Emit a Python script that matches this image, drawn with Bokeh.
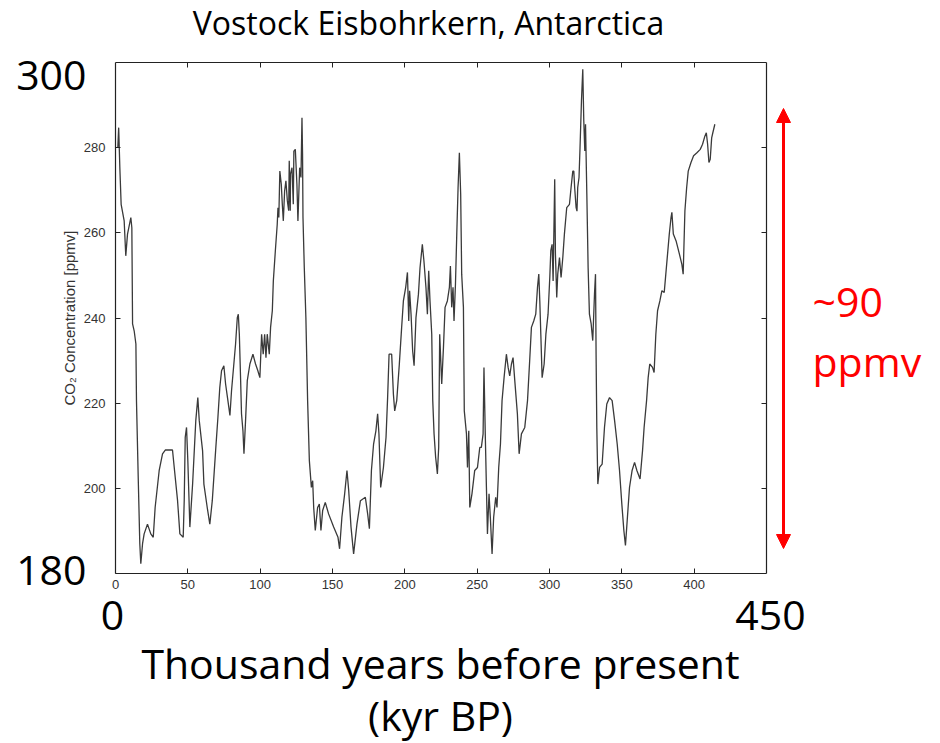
from bokeh.plotting import figure
from bokeh.models import (Range1d, LinearAxis, FixedTicker, Label, Arrow, NormalHead,
                          CustomLabelingPolicy)
from bokeh.embed import file_html
from bokeh.resources import INLINE

# ---- data read from the Vostok CO2 record (kyr BP, ppmv) ----
age_kyr = [
    1.6, 2.2, 3.0, 3.9, 6.0, 7.1, 8.3, 10.6, 11.3, 11.8, 12.9, 14.1, 14.5, 15.7,
    16.8, 17.5, 18.7, 19.8, 22.1, 24.4, 26.1, 27.4, 30.2, 32.5, 34.4, 39.4, 40.6,
    42.9, 44.5, 46.8, 47.5, 48.2, 49.1, 50.0, 51.4, 53.3, 55.5, 56.9, 57.9, 60.2,
    61.1, 63.4, 65.2, 66.9, 69.2, 70.8, 72.1, 73.3, 74.9, 76.1, 77.7, 79.1, 80.2,
    81.4, 83.0, 84.2, 84.9, 85.6, 86.5, 87.1, 88.1, 88.8, 89.9, 91.1, 92.9, 95.0,
    96.8, 98.4, 99.8, 101.0, 102.1, 103.1, 104.0, 104.9, 106.3, 107.2, 108.4,
    109.1, 110.5, 111.8, 112.3, 112.9, 113.6, 114.6, 115.3, 116.0, 116.9, 117.8,
    118.8, 119.7, 120.1, 120.8, 121.0, 122.0, 122.9, 123.3, 124.3, 125.4, 126.1,
    127.3, 128.2, 128.9, 129.3, 129.6, 130.5, 131.6, 132.8, 134.0, 135.4, 136.3,
    137.0, 138.1, 139.7, 140.9, 142.0, 143.2, 145.0, 147.3, 150.8, 153.8, 154.9,
    156.5, 158.4, 160.0, 161.2, 162.8, 164.6, 166.9, 169.3, 172.7, 174.3, 175.5,
    176.9, 178.4, 180.0, 181.2, 182.1, 183.3, 185.2, 187.0, 188.1, 189.1, 190.9,
    192.1, 193.0, 194.4, 196.2, 197.8, 199.0, 200.6, 201.8, 202.7, 203.3, 204.3,
    205.4, 206.4, 207.7, 209.4, 210.5, 212.1, 213.2, 214.6, 215.6, 216.5, 217.4,
    218.6, 219.3, 220.2, 221.3, 222.5, 223.4, 224.1, 225.5, 226.7, 227.8, 229.4,
    230.8, 231.5, 232.4, 233.3, 234.0, 235.0, 235.9, 236.8, 237.7, 238.6, 239.3,
    240.5, 241.1, 242.6, 243.3, 244.2, 244.9, 246.4, 248.3, 250.2, 251.8, 252.9,
    254.1, 254.7, 255.7, 256.4, 257.1, 258.2, 259.1, 260.3, 261.4, 262.8, 263.7,
    264.9, 266.1, 267.2, 268.6, 270.2, 271.4, 272.5, 273.7, 274.8, 276.0, 277.8,
    279.0, 280.6, 282.9, 284.8, 286.3, 287.5, 289.1, 290.5, 291.7, 292.6, 293.3,
    294.0, 294.9, 296.3, 297.5, 299.0, 300.2, 300.9, 301.8, 302.5, 303.6, 304.1,
    305.0, 305.7, 306.9, 308.0, 309.2, 310.3, 311.9, 313.8, 314.9, 316.1, 316.8,
    317.4, 318.4, 319.0, 319.5, 320.4, 321.1, 322.1, 323.0, 323.7, 324.4, 324.9,
    325.8, 326.7, 327.6, 328.8, 329.9, 331.1, 331.8, 332.2, 332.7, 333.4, 334.6,
    336.4, 338.0, 339.6, 341.5, 343.3, 345.0, 346.8, 348.4, 350.0, 351.4, 352.5,
    353.7, 355.3, 357.1, 358.8, 360.4, 362.6, 364.3, 365.4, 367.1, 368.2, 369.3,
    371.2, 372.3, 373.5, 374.7, 376.3, 377.7, 379.3, 380.4, 381.6, 382.8, 384.0,
    384.6, 385.6, 387.5, 389.8, 391.5, 392.4, 392.9, 393.6, 394.8, 395.9, 397.8,
    399.6, 401.9, 404.2, 405.8, 407.4, 408.4, 409.3, 410.2, 411.1, 412.1, 412.9,
    414.3,
]
co2_ppmv = [
    280.0, 284.7, 275.3, 266.7, 262.8, 254.6, 259.7, 263.6, 261.2, 238.6, 237.0,
    233.9, 220.6, 202.6, 187.0, 182.3, 187.0, 189.3, 191.6, 189.3, 188.5, 195.5,
    204.2, 208.1, 209.0, 209.0, 204.9, 197.1, 189.3, 188.5, 197.1, 212.0, 214.3,
    206.5, 190.9, 201.0, 215.9, 221.3, 215.9, 208.8, 201.0, 195.5, 191.6, 197.1,
    208.8, 216.7, 223.7, 227.6, 228.8, 224.5, 220.6, 217.1, 222.9, 227.6, 233.9,
    240.1, 240.9, 236.2, 225.3, 217.5, 213.5, 208.1, 215.9, 225.3, 229.2, 231.5,
    229.2, 227.6, 226.0, 236.2, 231.5, 236.2, 230.7, 236.2, 231.5, 237.8, 241.7,
    248.7, 255.8, 262.0, 265.9, 263.6, 274.5, 271.4, 266.7, 262.8, 269.8, 272.2,
    267.5, 265.2, 276.9, 265.2, 273.8, 275.3, 266.7, 279.2, 279.6, 271.4, 262.8,
    275.3, 273.0, 287.0, 278.4, 263.6, 251.8, 240.1, 220.6, 206.5, 200.2, 201.8,
    195.5, 190.1, 195.5, 196.3, 190.1, 194.8, 196.7, 194.0, 190.9, 188.5, 185.8,
    193.2, 198.7, 204.2, 199.5, 190.9, 184.6, 191.6, 197.1, 197.9, 194.0, 190.5,
    204.2, 210.4, 213.5, 217.5, 212.8, 200.2, 204.9, 212.0, 221.3, 231.5, 231.5,
    222.1, 218.2, 220.6, 229.2, 237.8, 244.0, 247.2, 250.7, 239.3, 246.4, 240.9,
    232.3, 228.8, 240.1, 245.6, 251.8, 257.3, 253.4, 247.2, 240.9, 251.1, 244.0,
    236.2, 220.6, 212.8, 207.3, 203.4, 209.6, 236.2, 224.5, 233.1, 242.5, 244.0,
    247.2, 252.2, 242.5, 247.2, 239.3, 248.0, 259.7, 270.6, 278.8, 269.1, 250.3,
    242.5, 218.2, 212.8, 204.9, 213.5, 195.5, 198.7, 204.2, 204.9, 209.6, 209.6,
    212.8, 228.4, 211.2, 200.2, 189.3, 198.7, 193.2, 184.6, 193.2, 197.9, 195.5,
    204.9, 210.4, 220.6, 226.0, 231.5, 228.4, 226.4, 229.2, 230.7, 225.3, 217.5,
    208.1, 212.8, 214.3, 220.6, 230.0, 237.8, 239.3, 240.9, 247.2, 250.3, 244.0,
    236.2, 226.0, 229.2, 236.2, 240.9, 249.5, 255.8, 257.3, 248.7, 272.6, 255.0,
    244.8, 250.3, 254.2, 249.5, 254.2, 259.7, 265.9, 266.7, 270.6, 274.5, 274.5,
    270.6, 265.9, 265.1, 270.6, 273.0, 280.0, 291.0, 298.4, 286.3, 279.2, 285.5,
    269.1, 251.8, 240.9, 238.6, 234.7, 245.6, 250.3, 231.5, 214.3, 201.0, 204.9,
    205.7, 214.3, 219.8, 221.3, 220.6, 215.9, 210.4, 204.2, 196.3, 190.1, 186.6,
    192.4, 200.2, 204.2, 206.1, 204.2, 202.2, 208.8, 214.3, 220.6, 226.0, 229.2,
    228.4, 227.2, 236.2, 241.7, 244.0, 246.4, 246.0, 250.3, 255.0, 259.7, 263.6,
    264.8, 259.7, 258.1, 255.0, 252.6, 250.3, 256.5, 265.2, 270.6, 274.5, 276.5,
    278.1, 278.8, 279.6, 280.8, 282.7, 283.5, 280.8, 276.5, 277.3, 282.3, 283.5,
    285.5,
]

x_ticks = [0, 50, 100, 150, 200, 250, 300, 350, 400]
y_ticks = [200, 220, 240, 260, 280]
x_limits = (0, 450)
y_limits = (180, 300)

title_text = "Vostock Eisbohrkern, Antarctica"
y_axis_text = "CO\u2082 Concentration [ppmv]"
x_title_lines = ["Thousand years before present", "(kyr BP)"]
range_note = ["~90", "ppmv"]

# ---- layout (page pixels) ----
W, H = 936, 742
BOX_L, BOX_T, BOX_R, BOX_B = 115, 62, 766, 573   # plot box on the page
kx = (BOX_R - BOX_L) / (x_limits[1] - x_limits[0])   # px per kyr
ky = (BOX_B - BOX_T) / (y_limits[1] - y_limits[0])   # px per ppmv


def dx(px):
    return x_limits[0] + (px - BOX_L) / kx


def dy(py):
    return y_limits[0] + (BOX_B - py) / ky


# the data frame spans the whole canvas; the plot box is drawn by four bounded axes
p = figure(width=W, height=H,
           x_range=Range1d(dx(0), dx(W)), y_range=Range1d(dy(H), dy(0)),
           x_axis_type=None, y_axis_type=None,
           output_backend="svg", toolbar_location=None,
           min_border=0)
p.outline_line_color = None
p.background_fill_color = "white"
p.border_fill_color = "white"
p.xgrid.visible = False
p.ygrid.visible = False

# drop every label of the tick-only axes (top and right)
no_labels = CustomLabelingPolicy(code="""
for (const i of Array.from(indices)) { indices.unset(i) }
return indices
""")


def make_axis(ticks, bounds, loc, show_labels, standoff):
    ax = LinearAxis(
        ticker=FixedTicker(ticks=ticks), bounds=bounds, fixed_location=loc,
        major_tick_in=5, major_tick_out=0,
        minor_tick_in=0, minor_tick_out=0,
        axis_line_color="#222222", axis_line_width=1.2,
        major_tick_line_color="#222222",
        major_label_text_font="Liberation Sans",
        major_label_text_font_size="13px",
        major_label_text_color="#333333",
        major_label_standoff=standoff,
    )
    if not show_labels:
        ax.major_label_policy = no_labels
    return ax


left = make_axis(y_ticks, y_limits, x_limits[0], True, 10)
left.axis_label = y_axis_text
left.axis_label_text_font = "Liberation Sans"
left.axis_label_text_font_size = "15px"
left.axis_label_text_font_style = "normal"
left.axis_label_text_color = "#333333"
left.axis_label_standoff = 3
p.add_layout(left, "left")
p.add_layout(make_axis(x_ticks, x_limits, y_limits[0], True, 6), "below")
p.add_layout(make_axis(y_ticks, y_limits, x_limits[1], False, 0), "right")
p.add_layout(make_axis(x_ticks[1:], x_limits, y_limits[1], False, 0), "above")

p.line(age_kyr, co2_ppmv, line_color="#3a3a3a", line_width=1.3)


def add_text(txt, px, py, size, align="center", color="black"):
    p.add_layout(Label(x=dx(px), y=dy(py), text=txt, text_font="Open Sans",
                       text_font_size=size, text_color=color,
                       text_align=align, text_baseline="middle"))


add_text(title_text, 428, 22, "32px")
add_text(str(y_limits[1]), 86, 75, "41px", align="right")
add_text(str(y_limits[0]), 86, 570, "41px", align="right")
add_text(str(x_limits[0]), 112, 615, "41px")
add_text(str(x_limits[1]), 770, 615, "41px")
add_text(x_title_lines[0], 440, 662, "41px")
add_text(x_title_lines[1], 440, 714, "41px")
add_text(range_note[0], 812, 300, "41px", align="left", color="#ff0000")
add_text(range_note[1], 812, 360, "41px", align="left", color="#ff0000")

p.add_layout(Arrow(x_start=dx(783), y_start=dy(548), x_end=dx(783), y_end=dy(108),
                   line_color="#ff0000", line_width=3,
                   start=NormalHead(size=14, fill_color="#ff0000", line_color="#ff0000"),
                   end=NormalHead(size=14, fill_color="#ff0000", line_color="#ff0000")))

open("out.html", "w").write(file_html(p, INLINE))
